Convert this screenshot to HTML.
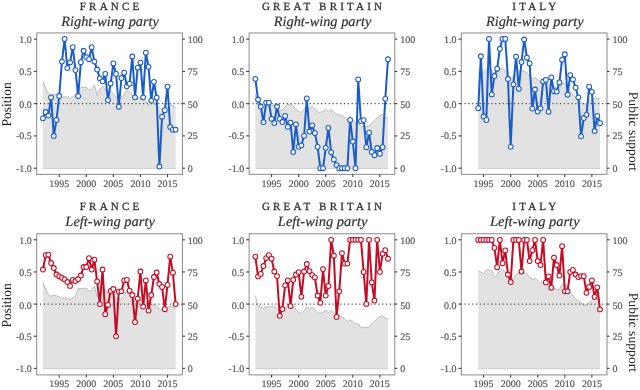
<!DOCTYPE html><html><head><meta charset="utf-8"><style>html,body{margin:0;padding:0;background:#fff;}svg{display:block;will-change:transform;}text{font-family:"Liberation Serif",serif;text-rendering:geometricPrecision;} .tk{font-size:10px;fill:#5a5a5a;stroke:#5a5a5a;stroke-width:0.2px;} .tt{font-size:11px;letter-spacing:3.2px;fill:#333;stroke:#333;stroke-width:0.3px;} .st{font-size:14.2px;font-style:italic;fill:#333;stroke:#333;stroke-width:0.2px;} .yl{fill:#222;}</style></head><body>
<svg width="640" height="390" viewBox="0 0 640 390">
<rect width="640" height="390" fill="#fff"/>
<text x="111.1" y="9.6" class="tt" text-anchor="middle">FRANCE</text>
<text x="110.1" y="25.8" class="st" text-anchor="middle" textLength="97.7" lengthAdjust="spacingAndGlyphs">Right-wing party</text>
<polygon points="42.98,168.70 42.98,81.10 45.68,88.20 48.39,93.70 51.10,95.30 53.80,94.20 56.51,94.80 59.22,95.90 61.92,97.20 64.63,96.80 67.34,97.20 70.05,98.60 72.75,97.20 75.46,95.30 78.17,87.70 80.87,87.70 83.58,87.30 86.29,87.30 88.99,90.20 91.70,89.30 94.41,84.90 97.12,95.50 99.82,89.70 102.53,86.30 105.24,89.10 107.94,93.60 110.65,91.00 113.36,94.20 116.06,96.80 118.77,98.00 121.48,98.10 124.19,94.20 126.89,89.70 129.60,92.00 132.31,95.30 135.01,97.20 137.72,98.10 140.43,99.10 143.13,100.00 145.84,101.40 148.55,106.10 151.25,103.70 153.96,103.80 156.67,105.00 159.38,108.00 162.08,109.40 164.79,108.00 167.50,106.60 170.20,105.10 172.91,106.30 175.62,107.50 175.62,168.70" fill="#e2e2e2"/>
<polyline points="42.98,81.10 45.68,88.20 48.39,93.70 51.10,95.30 53.80,94.20 56.51,94.80 59.22,95.90 61.92,97.20 64.63,96.80 67.34,97.20 70.05,98.60 72.75,97.20 75.46,95.30 78.17,87.70 80.87,87.70 83.58,87.30 86.29,87.30 88.99,90.20 91.70,89.30 94.41,84.90 97.12,95.50 99.82,89.70 102.53,86.30 105.24,89.10 107.94,93.60 110.65,91.00 113.36,94.20 116.06,96.80 118.77,98.00 121.48,98.10 124.19,94.20 126.89,89.70 129.60,92.00 132.31,95.30 135.01,97.20 137.72,98.10 140.43,99.10 143.13,100.00 145.84,101.40 148.55,106.10 151.25,103.70 153.96,103.80 156.67,105.00 159.38,108.00 162.08,109.40 164.79,108.00 167.50,106.60 170.20,105.10 172.91,106.30 175.62,107.50" fill="none" stroke="#bdbdbd" stroke-width="1" stroke-linejoin="round"/>
<line x1="42.98" y1="168.50" x2="175.62" y2="168.50" stroke="#d2d2d2" stroke-width="1.2"/>
<line x1="36.15" y1="103.65" x2="182.4" y2="103.65" stroke="#505050" stroke-width="1.1" stroke-dasharray="1.25,2.565"/>
<polyline points="42.98,118.30 45.68,112.00 48.39,115.50 51.10,97.40 53.80,136.00 56.51,119.90 59.22,96.00 61.92,61.60 64.63,38.90 67.34,68.10 70.05,62.40 72.75,47.20 75.46,70.10 78.17,96.10 80.87,62.20 83.58,50.80 86.29,57.10 88.99,59.20 91.70,47.20 94.41,61.60 97.12,69.50 99.82,78.40 102.53,81.30 105.24,73.80 107.94,100.00 110.65,83.50 113.36,63.40 116.06,73.90 118.77,106.70 121.48,78.00 124.19,72.70 126.89,86.30 129.60,83.70 132.31,56.50 135.01,97.30 137.72,67.60 140.43,62.60 143.13,97.30 145.84,52.70 148.55,66.80 151.25,100.60 153.96,81.80 156.67,97.70 159.38,166.50 162.08,116.70 164.79,110.20 167.50,86.70 170.20,127.00 172.91,129.70 175.62,129.70" fill="none" stroke="#1a5cc8" stroke-width="2" stroke-linejoin="round"/>
<circle cx="42.98" cy="118.30" r="2.4" fill="#fff" stroke="#1a5cc8" stroke-width="1.05"/>
<circle cx="45.68" cy="112.00" r="2.4" fill="#fff" stroke="#1a5cc8" stroke-width="1.05"/>
<circle cx="48.39" cy="115.50" r="2.4" fill="#fff" stroke="#1a5cc8" stroke-width="1.05"/>
<circle cx="51.10" cy="97.40" r="2.4" fill="#fff" stroke="#1a5cc8" stroke-width="1.05"/>
<circle cx="53.80" cy="136.00" r="2.4" fill="#fff" stroke="#1a5cc8" stroke-width="1.05"/>
<circle cx="56.51" cy="119.90" r="2.4" fill="#fff" stroke="#1a5cc8" stroke-width="1.05"/>
<circle cx="59.22" cy="96.00" r="2.4" fill="#fff" stroke="#1a5cc8" stroke-width="1.05"/>
<circle cx="61.92" cy="61.60" r="2.4" fill="#fff" stroke="#1a5cc8" stroke-width="1.05"/>
<circle cx="64.63" cy="38.90" r="2.4" fill="#fff" stroke="#1a5cc8" stroke-width="1.05"/>
<circle cx="67.34" cy="68.10" r="2.4" fill="#fff" stroke="#1a5cc8" stroke-width="1.05"/>
<circle cx="70.05" cy="62.40" r="2.4" fill="#fff" stroke="#1a5cc8" stroke-width="1.05"/>
<circle cx="72.75" cy="47.20" r="2.4" fill="#fff" stroke="#1a5cc8" stroke-width="1.05"/>
<circle cx="75.46" cy="70.10" r="2.4" fill="#fff" stroke="#1a5cc8" stroke-width="1.05"/>
<circle cx="78.17" cy="96.10" r="2.4" fill="#fff" stroke="#1a5cc8" stroke-width="1.05"/>
<circle cx="80.87" cy="62.20" r="2.4" fill="#fff" stroke="#1a5cc8" stroke-width="1.05"/>
<circle cx="83.58" cy="50.80" r="2.4" fill="#fff" stroke="#1a5cc8" stroke-width="1.05"/>
<circle cx="86.29" cy="57.10" r="2.4" fill="#fff" stroke="#1a5cc8" stroke-width="1.05"/>
<circle cx="88.99" cy="59.20" r="2.4" fill="#fff" stroke="#1a5cc8" stroke-width="1.05"/>
<circle cx="91.70" cy="47.20" r="2.4" fill="#fff" stroke="#1a5cc8" stroke-width="1.05"/>
<circle cx="94.41" cy="61.60" r="2.4" fill="#fff" stroke="#1a5cc8" stroke-width="1.05"/>
<circle cx="97.12" cy="69.50" r="2.4" fill="#fff" stroke="#1a5cc8" stroke-width="1.05"/>
<circle cx="99.82" cy="78.40" r="2.4" fill="#fff" stroke="#1a5cc8" stroke-width="1.05"/>
<circle cx="102.53" cy="81.30" r="2.4" fill="#fff" stroke="#1a5cc8" stroke-width="1.05"/>
<circle cx="105.24" cy="73.80" r="2.4" fill="#fff" stroke="#1a5cc8" stroke-width="1.05"/>
<circle cx="107.94" cy="100.00" r="2.4" fill="#fff" stroke="#1a5cc8" stroke-width="1.05"/>
<circle cx="110.65" cy="83.50" r="2.4" fill="#fff" stroke="#1a5cc8" stroke-width="1.05"/>
<circle cx="113.36" cy="63.40" r="2.4" fill="#fff" stroke="#1a5cc8" stroke-width="1.05"/>
<circle cx="116.06" cy="73.90" r="2.4" fill="#fff" stroke="#1a5cc8" stroke-width="1.05"/>
<circle cx="118.77" cy="106.70" r="2.4" fill="#fff" stroke="#1a5cc8" stroke-width="1.05"/>
<circle cx="121.48" cy="78.00" r="2.4" fill="#fff" stroke="#1a5cc8" stroke-width="1.05"/>
<circle cx="124.19" cy="72.70" r="2.4" fill="#fff" stroke="#1a5cc8" stroke-width="1.05"/>
<circle cx="126.89" cy="86.30" r="2.4" fill="#fff" stroke="#1a5cc8" stroke-width="1.05"/>
<circle cx="129.60" cy="83.70" r="2.4" fill="#fff" stroke="#1a5cc8" stroke-width="1.05"/>
<circle cx="132.31" cy="56.50" r="2.4" fill="#fff" stroke="#1a5cc8" stroke-width="1.05"/>
<circle cx="135.01" cy="97.30" r="2.4" fill="#fff" stroke="#1a5cc8" stroke-width="1.05"/>
<circle cx="137.72" cy="67.60" r="2.4" fill="#fff" stroke="#1a5cc8" stroke-width="1.05"/>
<circle cx="140.43" cy="62.60" r="2.4" fill="#fff" stroke="#1a5cc8" stroke-width="1.05"/>
<circle cx="143.13" cy="97.30" r="2.4" fill="#fff" stroke="#1a5cc8" stroke-width="1.05"/>
<circle cx="145.84" cy="52.70" r="2.4" fill="#fff" stroke="#1a5cc8" stroke-width="1.05"/>
<circle cx="148.55" cy="66.80" r="2.4" fill="#fff" stroke="#1a5cc8" stroke-width="1.05"/>
<circle cx="151.25" cy="100.60" r="2.4" fill="#fff" stroke="#1a5cc8" stroke-width="1.05"/>
<circle cx="153.96" cy="81.80" r="2.4" fill="#fff" stroke="#1a5cc8" stroke-width="1.05"/>
<circle cx="156.67" cy="97.70" r="2.4" fill="#fff" stroke="#1a5cc8" stroke-width="1.05"/>
<circle cx="159.38" cy="166.50" r="2.4" fill="#fff" stroke="#1a5cc8" stroke-width="1.05"/>
<circle cx="162.08" cy="116.70" r="2.4" fill="#fff" stroke="#1a5cc8" stroke-width="1.05"/>
<circle cx="164.79" cy="110.20" r="2.4" fill="#fff" stroke="#1a5cc8" stroke-width="1.05"/>
<circle cx="167.50" cy="86.70" r="2.4" fill="#fff" stroke="#1a5cc8" stroke-width="1.05"/>
<circle cx="170.20" cy="127.00" r="2.4" fill="#fff" stroke="#1a5cc8" stroke-width="1.05"/>
<circle cx="172.91" cy="129.70" r="2.4" fill="#fff" stroke="#1a5cc8" stroke-width="1.05"/>
<circle cx="175.62" cy="129.70" r="2.4" fill="#fff" stroke="#1a5cc8" stroke-width="1.05"/>
<rect x="36.70" y="32.95" width="145.70" height="141.40" fill="none" stroke="#8a8a8a" stroke-width="1"/>
<line x1="33.80" y1="39.10" x2="36.70" y2="39.10" stroke="#3a3a3a" stroke-width="1.1"/>
<line x1="182.40" y1="39.10" x2="184.90" y2="39.10" stroke="#3a3a3a" stroke-width="1.1"/>
<text x="31.80" y="42.50" class="tk" text-anchor="end">1.0</text>
<text x="187.80" y="42.50" class="tk">100</text>
<line x1="33.80" y1="71.38" x2="36.70" y2="71.38" stroke="#3a3a3a" stroke-width="1.1"/>
<line x1="182.40" y1="71.38" x2="184.90" y2="71.38" stroke="#3a3a3a" stroke-width="1.1"/>
<text x="31.80" y="74.78" class="tk" text-anchor="end">0.5</text>
<text x="187.80" y="74.78" class="tk">75</text>
<line x1="33.80" y1="103.65" x2="36.70" y2="103.65" stroke="#3a3a3a" stroke-width="1.1"/>
<line x1="182.40" y1="103.65" x2="184.90" y2="103.65" stroke="#3a3a3a" stroke-width="1.1"/>
<text x="31.80" y="107.85" class="tk" text-anchor="end">0.0</text>
<text x="187.80" y="107.85" class="tk">50</text>
<line x1="33.80" y1="135.92" x2="36.70" y2="135.92" stroke="#3a3a3a" stroke-width="1.1"/>
<line x1="182.40" y1="135.92" x2="184.90" y2="135.92" stroke="#3a3a3a" stroke-width="1.1"/>
<text x="31.80" y="139.32" class="tk" text-anchor="end">-0.5</text>
<text x="187.80" y="139.32" class="tk">25</text>
<line x1="33.80" y1="168.20" x2="36.70" y2="168.20" stroke="#3a3a3a" stroke-width="1.1"/>
<line x1="182.40" y1="168.20" x2="184.90" y2="168.20" stroke="#3a3a3a" stroke-width="1.1"/>
<text x="31.80" y="171.60" class="tk" text-anchor="end">-1.0</text>
<text x="187.80" y="171.60" class="tk">0</text>
<line x1="59.22" y1="174.35" x2="59.22" y2="177.05" stroke="#3a3a3a" stroke-width="1.1"/>
<text x="59.22" y="186.80" class="tk" text-anchor="middle">1995</text>
<line x1="86.29" y1="174.35" x2="86.29" y2="177.05" stroke="#3a3a3a" stroke-width="1.1"/>
<text x="86.29" y="186.80" class="tk" text-anchor="middle">2000</text>
<line x1="113.36" y1="174.35" x2="113.36" y2="177.05" stroke="#3a3a3a" stroke-width="1.1"/>
<text x="113.36" y="186.80" class="tk" text-anchor="middle">2005</text>
<line x1="140.43" y1="174.35" x2="140.43" y2="177.05" stroke="#3a3a3a" stroke-width="1.1"/>
<text x="140.43" y="186.80" class="tk" text-anchor="middle">2010</text>
<line x1="167.50" y1="174.35" x2="167.50" y2="177.05" stroke="#3a3a3a" stroke-width="1.1"/>
<text x="167.50" y="186.80" class="tk" text-anchor="middle">2015</text>
<text x="323.6" y="9.6" class="tt" text-anchor="middle">GREAT BRITAIN</text>
<text x="322.6" y="25.8" class="st" text-anchor="middle" textLength="97.7" lengthAdjust="spacingAndGlyphs">Right-wing party</text>
<polygon points="255.35,168.70 255.35,94.50 258.06,105.00 260.76,106.30 263.47,107.30 266.18,105.60 268.88,106.00 271.59,105.50 274.30,105.30 277.01,107.70 279.71,110.30 282.42,110.30 285.13,106.50 287.83,104.30 290.54,104.30 293.25,106.00 295.95,108.80 298.66,111.70 301.37,112.30 304.08,109.50 306.78,106.20 309.49,108.20 312.20,106.20 314.90,108.50 317.61,112.00 320.32,112.50 323.02,111.50 325.73,109.00 328.44,112.00 331.15,109.50 333.85,112.00 336.56,114.20 339.27,114.80 341.97,115.90 344.68,117.40 347.39,120.40 350.09,119.00 352.80,120.40 355.51,123.00 358.22,122.70 360.92,126.60 363.63,126.60 366.34,126.60 369.04,126.00 371.75,122.70 374.46,120.40 377.16,117.60 379.87,115.60 382.58,114.80 385.29,117.10 387.99,118.20 387.99,168.70" fill="#e2e2e2"/>
<polyline points="255.35,94.50 258.06,105.00 260.76,106.30 263.47,107.30 266.18,105.60 268.88,106.00 271.59,105.50 274.30,105.30 277.01,107.70 279.71,110.30 282.42,110.30 285.13,106.50 287.83,104.30 290.54,104.30 293.25,106.00 295.95,108.80 298.66,111.70 301.37,112.30 304.08,109.50 306.78,106.20 309.49,108.20 312.20,106.20 314.90,108.50 317.61,112.00 320.32,112.50 323.02,111.50 325.73,109.00 328.44,112.00 331.15,109.50 333.85,112.00 336.56,114.20 339.27,114.80 341.97,115.90 344.68,117.40 347.39,120.40 350.09,119.00 352.80,120.40 355.51,123.00 358.22,122.70 360.92,126.60 363.63,126.60 366.34,126.60 369.04,126.00 371.75,122.70 374.46,120.40 377.16,117.60 379.87,115.60 382.58,114.80 385.29,117.10 387.99,118.20" fill="none" stroke="#bdbdbd" stroke-width="1" stroke-linejoin="round"/>
<line x1="255.35" y1="168.50" x2="387.99" y2="168.50" stroke="#d2d2d2" stroke-width="1.2"/>
<line x1="248.55" y1="103.65" x2="394.8" y2="103.65" stroke="#505050" stroke-width="1.1" stroke-dasharray="1.25,2.565"/>
<polyline points="255.35,78.80 258.06,99.50 260.76,106.50 263.47,122.00 266.18,102.60 268.88,102.60 271.59,118.80 274.30,123.00 277.01,106.50 279.71,118.80 282.42,122.00 285.13,115.90 287.83,126.80 290.54,122.60 293.25,152.00 295.95,124.30 298.66,146.80 301.37,145.30 304.08,135.80 306.78,98.40 309.49,131.60 312.20,125.30 314.90,133.10 317.61,146.80 320.32,168.20 323.02,168.20 325.73,147.80 328.44,127.90 331.15,152.30 333.85,159.40 336.56,165.10 339.27,168.20 341.97,168.20 344.68,168.20 347.39,168.20 350.09,119.90 352.80,141.50 355.51,168.20 358.22,79.40 360.92,121.10 363.63,120.10 366.34,147.20 369.04,132.70 371.75,152.00 374.46,155.20 377.16,148.00 379.87,153.70 382.58,147.20 385.29,98.80 387.99,59.30" fill="none" stroke="#1a5cc8" stroke-width="2" stroke-linejoin="round"/>
<circle cx="255.35" cy="78.80" r="2.4" fill="#fff" stroke="#1a5cc8" stroke-width="1.05"/>
<circle cx="258.06" cy="99.50" r="2.4" fill="#fff" stroke="#1a5cc8" stroke-width="1.05"/>
<circle cx="260.76" cy="106.50" r="2.4" fill="#fff" stroke="#1a5cc8" stroke-width="1.05"/>
<circle cx="263.47" cy="122.00" r="2.4" fill="#fff" stroke="#1a5cc8" stroke-width="1.05"/>
<circle cx="266.18" cy="102.60" r="2.4" fill="#fff" stroke="#1a5cc8" stroke-width="1.05"/>
<circle cx="268.88" cy="102.60" r="2.4" fill="#fff" stroke="#1a5cc8" stroke-width="1.05"/>
<circle cx="271.59" cy="118.80" r="2.4" fill="#fff" stroke="#1a5cc8" stroke-width="1.05"/>
<circle cx="274.30" cy="123.00" r="2.4" fill="#fff" stroke="#1a5cc8" stroke-width="1.05"/>
<circle cx="277.01" cy="106.50" r="2.4" fill="#fff" stroke="#1a5cc8" stroke-width="1.05"/>
<circle cx="279.71" cy="118.80" r="2.4" fill="#fff" stroke="#1a5cc8" stroke-width="1.05"/>
<circle cx="282.42" cy="122.00" r="2.4" fill="#fff" stroke="#1a5cc8" stroke-width="1.05"/>
<circle cx="285.13" cy="115.90" r="2.4" fill="#fff" stroke="#1a5cc8" stroke-width="1.05"/>
<circle cx="287.83" cy="126.80" r="2.4" fill="#fff" stroke="#1a5cc8" stroke-width="1.05"/>
<circle cx="290.54" cy="122.60" r="2.4" fill="#fff" stroke="#1a5cc8" stroke-width="1.05"/>
<circle cx="293.25" cy="152.00" r="2.4" fill="#fff" stroke="#1a5cc8" stroke-width="1.05"/>
<circle cx="295.95" cy="124.30" r="2.4" fill="#fff" stroke="#1a5cc8" stroke-width="1.05"/>
<circle cx="298.66" cy="146.80" r="2.4" fill="#fff" stroke="#1a5cc8" stroke-width="1.05"/>
<circle cx="301.37" cy="145.30" r="2.4" fill="#fff" stroke="#1a5cc8" stroke-width="1.05"/>
<circle cx="304.08" cy="135.80" r="2.4" fill="#fff" stroke="#1a5cc8" stroke-width="1.05"/>
<circle cx="306.78" cy="98.40" r="2.4" fill="#fff" stroke="#1a5cc8" stroke-width="1.05"/>
<circle cx="309.49" cy="131.60" r="2.4" fill="#fff" stroke="#1a5cc8" stroke-width="1.05"/>
<circle cx="312.20" cy="125.30" r="2.4" fill="#fff" stroke="#1a5cc8" stroke-width="1.05"/>
<circle cx="314.90" cy="133.10" r="2.4" fill="#fff" stroke="#1a5cc8" stroke-width="1.05"/>
<circle cx="317.61" cy="146.80" r="2.4" fill="#fff" stroke="#1a5cc8" stroke-width="1.05"/>
<circle cx="320.32" cy="168.20" r="2.4" fill="#fff" stroke="#1a5cc8" stroke-width="1.05"/>
<circle cx="323.02" cy="168.20" r="2.4" fill="#fff" stroke="#1a5cc8" stroke-width="1.05"/>
<circle cx="325.73" cy="147.80" r="2.4" fill="#fff" stroke="#1a5cc8" stroke-width="1.05"/>
<circle cx="328.44" cy="127.90" r="2.4" fill="#fff" stroke="#1a5cc8" stroke-width="1.05"/>
<circle cx="331.15" cy="152.30" r="2.4" fill="#fff" stroke="#1a5cc8" stroke-width="1.05"/>
<circle cx="333.85" cy="159.40" r="2.4" fill="#fff" stroke="#1a5cc8" stroke-width="1.05"/>
<circle cx="336.56" cy="165.10" r="2.4" fill="#fff" stroke="#1a5cc8" stroke-width="1.05"/>
<circle cx="339.27" cy="168.20" r="2.4" fill="#fff" stroke="#1a5cc8" stroke-width="1.05"/>
<circle cx="341.97" cy="168.20" r="2.4" fill="#fff" stroke="#1a5cc8" stroke-width="1.05"/>
<circle cx="344.68" cy="168.20" r="2.4" fill="#fff" stroke="#1a5cc8" stroke-width="1.05"/>
<circle cx="347.39" cy="168.20" r="2.4" fill="#fff" stroke="#1a5cc8" stroke-width="1.05"/>
<circle cx="350.09" cy="119.90" r="2.4" fill="#fff" stroke="#1a5cc8" stroke-width="1.05"/>
<circle cx="352.80" cy="141.50" r="2.4" fill="#fff" stroke="#1a5cc8" stroke-width="1.05"/>
<circle cx="355.51" cy="168.20" r="2.4" fill="#fff" stroke="#1a5cc8" stroke-width="1.05"/>
<circle cx="358.22" cy="79.40" r="2.4" fill="#fff" stroke="#1a5cc8" stroke-width="1.05"/>
<circle cx="360.92" cy="121.10" r="2.4" fill="#fff" stroke="#1a5cc8" stroke-width="1.05"/>
<circle cx="363.63" cy="120.10" r="2.4" fill="#fff" stroke="#1a5cc8" stroke-width="1.05"/>
<circle cx="366.34" cy="147.20" r="2.4" fill="#fff" stroke="#1a5cc8" stroke-width="1.05"/>
<circle cx="369.04" cy="132.70" r="2.4" fill="#fff" stroke="#1a5cc8" stroke-width="1.05"/>
<circle cx="371.75" cy="152.00" r="2.4" fill="#fff" stroke="#1a5cc8" stroke-width="1.05"/>
<circle cx="374.46" cy="155.20" r="2.4" fill="#fff" stroke="#1a5cc8" stroke-width="1.05"/>
<circle cx="377.16" cy="148.00" r="2.4" fill="#fff" stroke="#1a5cc8" stroke-width="1.05"/>
<circle cx="379.87" cy="153.70" r="2.4" fill="#fff" stroke="#1a5cc8" stroke-width="1.05"/>
<circle cx="382.58" cy="147.20" r="2.4" fill="#fff" stroke="#1a5cc8" stroke-width="1.05"/>
<circle cx="385.29" cy="98.80" r="2.4" fill="#fff" stroke="#1a5cc8" stroke-width="1.05"/>
<circle cx="387.99" cy="59.30" r="2.4" fill="#fff" stroke="#1a5cc8" stroke-width="1.05"/>
<rect x="249.10" y="32.95" width="145.70" height="141.40" fill="none" stroke="#8a8a8a" stroke-width="1"/>
<line x1="246.20" y1="39.10" x2="249.10" y2="39.10" stroke="#3a3a3a" stroke-width="1.1"/>
<line x1="394.80" y1="39.10" x2="397.30" y2="39.10" stroke="#3a3a3a" stroke-width="1.1"/>
<text x="244.20" y="42.50" class="tk" text-anchor="end">1.0</text>
<text x="400.20" y="42.50" class="tk">100</text>
<line x1="246.20" y1="71.38" x2="249.10" y2="71.38" stroke="#3a3a3a" stroke-width="1.1"/>
<line x1="394.80" y1="71.38" x2="397.30" y2="71.38" stroke="#3a3a3a" stroke-width="1.1"/>
<text x="244.20" y="74.78" class="tk" text-anchor="end">0.5</text>
<text x="400.20" y="74.78" class="tk">75</text>
<line x1="246.20" y1="103.65" x2="249.10" y2="103.65" stroke="#3a3a3a" stroke-width="1.1"/>
<line x1="394.80" y1="103.65" x2="397.30" y2="103.65" stroke="#3a3a3a" stroke-width="1.1"/>
<text x="244.20" y="107.85" class="tk" text-anchor="end">0.0</text>
<text x="400.20" y="107.85" class="tk">50</text>
<line x1="246.20" y1="135.92" x2="249.10" y2="135.92" stroke="#3a3a3a" stroke-width="1.1"/>
<line x1="394.80" y1="135.92" x2="397.30" y2="135.92" stroke="#3a3a3a" stroke-width="1.1"/>
<text x="244.20" y="139.32" class="tk" text-anchor="end">-0.5</text>
<text x="400.20" y="139.32" class="tk">25</text>
<line x1="246.20" y1="168.20" x2="249.10" y2="168.20" stroke="#3a3a3a" stroke-width="1.1"/>
<line x1="394.80" y1="168.20" x2="397.30" y2="168.20" stroke="#3a3a3a" stroke-width="1.1"/>
<text x="244.20" y="171.60" class="tk" text-anchor="end">-1.0</text>
<text x="400.20" y="171.60" class="tk">0</text>
<line x1="271.59" y1="174.35" x2="271.59" y2="177.05" stroke="#3a3a3a" stroke-width="1.1"/>
<text x="271.59" y="186.80" class="tk" text-anchor="middle">1995</text>
<line x1="298.66" y1="174.35" x2="298.66" y2="177.05" stroke="#3a3a3a" stroke-width="1.1"/>
<text x="298.66" y="186.80" class="tk" text-anchor="middle">2000</text>
<line x1="325.73" y1="174.35" x2="325.73" y2="177.05" stroke="#3a3a3a" stroke-width="1.1"/>
<text x="325.73" y="186.80" class="tk" text-anchor="middle">2005</text>
<line x1="352.80" y1="174.35" x2="352.80" y2="177.05" stroke="#3a3a3a" stroke-width="1.1"/>
<text x="352.80" y="186.80" class="tk" text-anchor="middle">2010</text>
<line x1="379.87" y1="174.35" x2="379.87" y2="177.05" stroke="#3a3a3a" stroke-width="1.1"/>
<text x="379.87" y="186.80" class="tk" text-anchor="middle">2015</text>
<text x="535.8" y="9.6" class="tt" text-anchor="middle">ITALY</text>
<text x="534.8" y="25.8" class="st" text-anchor="middle" textLength="97.7" lengthAdjust="spacingAndGlyphs">Right-wing party</text>
<polygon points="478.19,168.70 478.19,69.50 480.90,71.10 483.60,72.50 486.31,68.90 489.02,68.90 491.72,69.80 494.43,76.30 497.14,74.10 499.84,69.20 502.55,68.40 505.26,70.80 507.97,75.20 510.67,78.00 513.38,77.40 516.09,74.10 518.79,71.40 521.50,70.80 524.21,71.40 526.91,73.00 529.62,76.30 532.33,78.50 535.03,77.50 537.74,79.40 540.45,82.70 543.16,80.50 545.86,81.00 548.57,83.00 551.28,85.40 553.98,86.50 556.69,88.50 559.40,88.50 562.11,83.50 564.81,83.00 567.52,88.00 570.23,91.00 572.93,94.50 575.64,97.50 578.35,100.00 581.05,102.00 583.76,104.00 586.47,104.00 589.17,101.50 591.88,98.90 594.59,97.90 597.30,98.40 600.00,98.90 600.00,168.70" fill="#e2e2e2"/>
<polyline points="478.19,69.50 480.90,71.10 483.60,72.50 486.31,68.90 489.02,68.90 491.72,69.80 494.43,76.30 497.14,74.10 499.84,69.20 502.55,68.40 505.26,70.80 507.97,75.20 510.67,78.00 513.38,77.40 516.09,74.10 518.79,71.40 521.50,70.80 524.21,71.40 526.91,73.00 529.62,76.30 532.33,78.50 535.03,77.50 537.74,79.40 540.45,82.70 543.16,80.50 545.86,81.00 548.57,83.00 551.28,85.40 553.98,86.50 556.69,88.50 559.40,88.50 562.11,83.50 564.81,83.00 567.52,88.00 570.23,91.00 572.93,94.50 575.64,97.50 578.35,100.00 581.05,102.00 583.76,104.00 586.47,104.00 589.17,101.50 591.88,98.90 594.59,97.90 597.30,98.40 600.00,98.90" fill="none" stroke="#bdbdbd" stroke-width="1" stroke-linejoin="round"/>
<line x1="478.19" y1="168.50" x2="600.00" y2="168.50" stroke="#d2d2d2" stroke-width="1.2"/>
<line x1="460.75" y1="103.65" x2="607.0" y2="103.65" stroke="#505050" stroke-width="1.1" stroke-dasharray="1.25,2.565"/>
<polyline points="478.19,108.20 480.90,56.30 483.60,116.50 486.31,119.90 489.02,38.90 491.72,94.40 494.43,76.00 497.14,68.70 499.84,48.80 502.55,38.90 505.26,38.90 507.97,79.00 510.67,146.80 513.38,84.30 516.09,56.70 518.79,88.70 521.50,62.00 524.21,39.50 526.91,57.70 529.62,63.40 532.33,108.60 535.03,89.50 537.74,111.50 540.45,108.30 543.16,81.40 545.86,79.80 548.57,111.70 551.28,77.40 553.98,91.20 556.69,91.60 559.40,82.40 562.11,59.70 564.81,54.30 567.52,94.70 570.23,75.10 572.93,79.40 575.64,87.70 578.35,97.30 581.05,136.30 583.76,118.00 586.47,114.80 589.17,86.70 591.88,91.80 594.59,131.00 597.30,115.90 600.00,123.20" fill="none" stroke="#1a5cc8" stroke-width="2" stroke-linejoin="round"/>
<circle cx="478.19" cy="108.20" r="2.4" fill="#fff" stroke="#1a5cc8" stroke-width="1.05"/>
<circle cx="480.90" cy="56.30" r="2.4" fill="#fff" stroke="#1a5cc8" stroke-width="1.05"/>
<circle cx="483.60" cy="116.50" r="2.4" fill="#fff" stroke="#1a5cc8" stroke-width="1.05"/>
<circle cx="486.31" cy="119.90" r="2.4" fill="#fff" stroke="#1a5cc8" stroke-width="1.05"/>
<circle cx="489.02" cy="38.90" r="2.4" fill="#fff" stroke="#1a5cc8" stroke-width="1.05"/>
<circle cx="491.72" cy="94.40" r="2.4" fill="#fff" stroke="#1a5cc8" stroke-width="1.05"/>
<circle cx="494.43" cy="76.00" r="2.4" fill="#fff" stroke="#1a5cc8" stroke-width="1.05"/>
<circle cx="497.14" cy="68.70" r="2.4" fill="#fff" stroke="#1a5cc8" stroke-width="1.05"/>
<circle cx="499.84" cy="48.80" r="2.4" fill="#fff" stroke="#1a5cc8" stroke-width="1.05"/>
<circle cx="502.55" cy="38.90" r="2.4" fill="#fff" stroke="#1a5cc8" stroke-width="1.05"/>
<circle cx="505.26" cy="38.90" r="2.4" fill="#fff" stroke="#1a5cc8" stroke-width="1.05"/>
<circle cx="507.97" cy="79.00" r="2.4" fill="#fff" stroke="#1a5cc8" stroke-width="1.05"/>
<circle cx="510.67" cy="146.80" r="2.4" fill="#fff" stroke="#1a5cc8" stroke-width="1.05"/>
<circle cx="513.38" cy="84.30" r="2.4" fill="#fff" stroke="#1a5cc8" stroke-width="1.05"/>
<circle cx="516.09" cy="56.70" r="2.4" fill="#fff" stroke="#1a5cc8" stroke-width="1.05"/>
<circle cx="518.79" cy="88.70" r="2.4" fill="#fff" stroke="#1a5cc8" stroke-width="1.05"/>
<circle cx="521.50" cy="62.00" r="2.4" fill="#fff" stroke="#1a5cc8" stroke-width="1.05"/>
<circle cx="524.21" cy="39.50" r="2.4" fill="#fff" stroke="#1a5cc8" stroke-width="1.05"/>
<circle cx="526.91" cy="57.70" r="2.4" fill="#fff" stroke="#1a5cc8" stroke-width="1.05"/>
<circle cx="529.62" cy="63.40" r="2.4" fill="#fff" stroke="#1a5cc8" stroke-width="1.05"/>
<circle cx="532.33" cy="108.60" r="2.4" fill="#fff" stroke="#1a5cc8" stroke-width="1.05"/>
<circle cx="535.03" cy="89.50" r="2.4" fill="#fff" stroke="#1a5cc8" stroke-width="1.05"/>
<circle cx="537.74" cy="111.50" r="2.4" fill="#fff" stroke="#1a5cc8" stroke-width="1.05"/>
<circle cx="540.45" cy="108.30" r="2.4" fill="#fff" stroke="#1a5cc8" stroke-width="1.05"/>
<circle cx="543.16" cy="81.40" r="2.4" fill="#fff" stroke="#1a5cc8" stroke-width="1.05"/>
<circle cx="545.86" cy="79.80" r="2.4" fill="#fff" stroke="#1a5cc8" stroke-width="1.05"/>
<circle cx="548.57" cy="111.70" r="2.4" fill="#fff" stroke="#1a5cc8" stroke-width="1.05"/>
<circle cx="551.28" cy="77.40" r="2.4" fill="#fff" stroke="#1a5cc8" stroke-width="1.05"/>
<circle cx="553.98" cy="91.20" r="2.4" fill="#fff" stroke="#1a5cc8" stroke-width="1.05"/>
<circle cx="556.69" cy="91.60" r="2.4" fill="#fff" stroke="#1a5cc8" stroke-width="1.05"/>
<circle cx="559.40" cy="82.40" r="2.4" fill="#fff" stroke="#1a5cc8" stroke-width="1.05"/>
<circle cx="562.11" cy="59.70" r="2.4" fill="#fff" stroke="#1a5cc8" stroke-width="1.05"/>
<circle cx="564.81" cy="54.30" r="2.4" fill="#fff" stroke="#1a5cc8" stroke-width="1.05"/>
<circle cx="567.52" cy="94.70" r="2.4" fill="#fff" stroke="#1a5cc8" stroke-width="1.05"/>
<circle cx="570.23" cy="75.10" r="2.4" fill="#fff" stroke="#1a5cc8" stroke-width="1.05"/>
<circle cx="572.93" cy="79.40" r="2.4" fill="#fff" stroke="#1a5cc8" stroke-width="1.05"/>
<circle cx="575.64" cy="87.70" r="2.4" fill="#fff" stroke="#1a5cc8" stroke-width="1.05"/>
<circle cx="578.35" cy="97.30" r="2.4" fill="#fff" stroke="#1a5cc8" stroke-width="1.05"/>
<circle cx="581.05" cy="136.30" r="2.4" fill="#fff" stroke="#1a5cc8" stroke-width="1.05"/>
<circle cx="583.76" cy="118.00" r="2.4" fill="#fff" stroke="#1a5cc8" stroke-width="1.05"/>
<circle cx="586.47" cy="114.80" r="2.4" fill="#fff" stroke="#1a5cc8" stroke-width="1.05"/>
<circle cx="589.17" cy="86.70" r="2.4" fill="#fff" stroke="#1a5cc8" stroke-width="1.05"/>
<circle cx="591.88" cy="91.80" r="2.4" fill="#fff" stroke="#1a5cc8" stroke-width="1.05"/>
<circle cx="594.59" cy="131.00" r="2.4" fill="#fff" stroke="#1a5cc8" stroke-width="1.05"/>
<circle cx="597.30" cy="115.90" r="2.4" fill="#fff" stroke="#1a5cc8" stroke-width="1.05"/>
<circle cx="600.00" cy="123.20" r="2.4" fill="#fff" stroke="#1a5cc8" stroke-width="1.05"/>
<rect x="461.30" y="32.95" width="145.70" height="141.40" fill="none" stroke="#8a8a8a" stroke-width="1"/>
<line x1="458.40" y1="39.10" x2="461.30" y2="39.10" stroke="#3a3a3a" stroke-width="1.1"/>
<line x1="607.00" y1="39.10" x2="609.50" y2="39.10" stroke="#3a3a3a" stroke-width="1.1"/>
<text x="456.40" y="42.50" class="tk" text-anchor="end">1.0</text>
<text x="612.40" y="42.50" class="tk">100</text>
<line x1="458.40" y1="71.38" x2="461.30" y2="71.38" stroke="#3a3a3a" stroke-width="1.1"/>
<line x1="607.00" y1="71.38" x2="609.50" y2="71.38" stroke="#3a3a3a" stroke-width="1.1"/>
<text x="456.40" y="74.78" class="tk" text-anchor="end">0.5</text>
<text x="612.40" y="74.78" class="tk">75</text>
<line x1="458.40" y1="103.65" x2="461.30" y2="103.65" stroke="#3a3a3a" stroke-width="1.1"/>
<line x1="607.00" y1="103.65" x2="609.50" y2="103.65" stroke="#3a3a3a" stroke-width="1.1"/>
<text x="456.40" y="107.85" class="tk" text-anchor="end">0.0</text>
<text x="612.40" y="107.85" class="tk">50</text>
<line x1="458.40" y1="135.92" x2="461.30" y2="135.92" stroke="#3a3a3a" stroke-width="1.1"/>
<line x1="607.00" y1="135.92" x2="609.50" y2="135.92" stroke="#3a3a3a" stroke-width="1.1"/>
<text x="456.40" y="139.32" class="tk" text-anchor="end">-0.5</text>
<text x="612.40" y="139.32" class="tk">25</text>
<line x1="458.40" y1="168.20" x2="461.30" y2="168.20" stroke="#3a3a3a" stroke-width="1.1"/>
<line x1="607.00" y1="168.20" x2="609.50" y2="168.20" stroke="#3a3a3a" stroke-width="1.1"/>
<text x="456.40" y="171.60" class="tk" text-anchor="end">-1.0</text>
<text x="612.40" y="171.60" class="tk">0</text>
<line x1="483.60" y1="174.35" x2="483.60" y2="177.05" stroke="#3a3a3a" stroke-width="1.1"/>
<text x="483.60" y="186.80" class="tk" text-anchor="middle">1995</text>
<line x1="510.67" y1="174.35" x2="510.67" y2="177.05" stroke="#3a3a3a" stroke-width="1.1"/>
<text x="510.67" y="186.80" class="tk" text-anchor="middle">2000</text>
<line x1="537.74" y1="174.35" x2="537.74" y2="177.05" stroke="#3a3a3a" stroke-width="1.1"/>
<text x="537.74" y="186.80" class="tk" text-anchor="middle">2005</text>
<line x1="564.81" y1="174.35" x2="564.81" y2="177.05" stroke="#3a3a3a" stroke-width="1.1"/>
<text x="564.81" y="186.80" class="tk" text-anchor="middle">2010</text>
<line x1="591.88" y1="174.35" x2="591.88" y2="177.05" stroke="#3a3a3a" stroke-width="1.1"/>
<text x="591.88" y="186.80" class="tk" text-anchor="middle">2015</text>
<text transform="translate(11.0,104.30) rotate(-90)" font-size="13.5" text-anchor="middle" class="yl">Position</text>
<text transform="translate(629.0,131.40) rotate(90)" font-size="13.3" text-anchor="middle" textLength="79.4" lengthAdjust="spacingAndGlyphs" class="yl">Public support</text>
<text x="111.1" y="209.6" class="tt" text-anchor="middle">FRANCE</text>
<text x="110.1" y="225.8" class="st" text-anchor="middle" textLength="89.5" lengthAdjust="spacingAndGlyphs">Left-wing party</text>
<polygon points="42.98,368.85 42.98,282.10 45.68,289.20 48.39,294.70 51.10,296.30 53.80,295.20 56.51,295.80 59.22,296.90 61.92,298.20 64.63,297.80 67.34,298.20 70.05,299.60 72.75,298.20 75.46,296.30 78.17,288.70 80.87,288.70 83.58,288.30 86.29,288.30 88.99,291.20 91.70,290.30 94.41,285.90 97.12,296.50 99.82,290.70 102.53,287.30 105.24,290.10 107.94,294.60 110.65,292.00 113.36,295.20 116.06,297.80 118.77,299.00 121.48,299.10 124.19,295.20 126.89,290.70 129.60,293.00 132.31,296.30 135.01,298.20 137.72,299.10 140.43,300.10 143.13,301.00 145.84,302.40 148.55,307.10 151.25,304.70 153.96,304.80 156.67,306.00 159.38,309.00 162.08,310.40 164.79,309.00 167.50,307.60 170.20,306.10 172.91,307.30 175.62,308.50 175.62,368.85" fill="#e2e2e2"/>
<polyline points="42.98,282.10 45.68,289.20 48.39,294.70 51.10,296.30 53.80,295.20 56.51,295.80 59.22,296.90 61.92,298.20 64.63,297.80 67.34,298.20 70.05,299.60 72.75,298.20 75.46,296.30 78.17,288.70 80.87,288.70 83.58,288.30 86.29,288.30 88.99,291.20 91.70,290.30 94.41,285.90 97.12,296.50 99.82,290.70 102.53,287.30 105.24,290.10 107.94,294.60 110.65,292.00 113.36,295.20 116.06,297.80 118.77,299.00 121.48,299.10 124.19,295.20 126.89,290.70 129.60,293.00 132.31,296.30 135.01,298.20 137.72,299.10 140.43,300.10 143.13,301.00 145.84,302.40 148.55,307.10 151.25,304.70 153.96,304.80 156.67,306.00 159.38,309.00 162.08,310.40 164.79,309.00 167.50,307.60 170.20,306.10 172.91,307.30 175.62,308.50" fill="none" stroke="#bdbdbd" stroke-width="1" stroke-linejoin="round"/>
<line x1="42.98" y1="368.65" x2="175.62" y2="368.65" stroke="#d2d2d2" stroke-width="1.2"/>
<line x1="36.15" y1="304.08" x2="182.4" y2="304.08" stroke="#505050" stroke-width="1.1" stroke-dasharray="1.25,2.565"/>
<polyline points="42.98,269.50 45.68,255.10 48.39,254.70 51.10,263.00 53.80,268.00 56.51,274.50 59.22,276.40 61.92,277.80 64.63,279.40 67.34,282.00 70.05,285.90 72.75,279.80 75.46,281.00 78.17,279.00 80.87,275.50 83.58,267.00 86.29,267.00 88.99,258.10 91.70,269.50 94.41,259.70 97.12,281.40 99.82,304.10 102.53,269.50 105.24,314.20 107.94,304.90 110.65,290.90 113.36,289.00 116.06,336.30 118.77,291.60 121.48,291.30 124.19,280.40 126.89,279.80 129.60,290.70 132.31,295.00 135.01,322.00 137.72,298.60 140.43,271.50 143.13,306.50 145.84,280.40 148.55,310.60 151.25,295.00 153.96,277.00 156.67,272.50 159.38,284.00 162.08,286.90 164.79,309.20 167.50,284.90 170.20,256.70 172.91,272.70 175.62,304.10" fill="none" stroke="#c50c24" stroke-width="2" stroke-linejoin="round"/>
<circle cx="42.98" cy="269.50" r="2.4" fill="#fff" stroke="#c50c24" stroke-width="1.05"/>
<circle cx="45.68" cy="255.10" r="2.4" fill="#fff" stroke="#c50c24" stroke-width="1.05"/>
<circle cx="48.39" cy="254.70" r="2.4" fill="#fff" stroke="#c50c24" stroke-width="1.05"/>
<circle cx="51.10" cy="263.00" r="2.4" fill="#fff" stroke="#c50c24" stroke-width="1.05"/>
<circle cx="53.80" cy="268.00" r="2.4" fill="#fff" stroke="#c50c24" stroke-width="1.05"/>
<circle cx="56.51" cy="274.50" r="2.4" fill="#fff" stroke="#c50c24" stroke-width="1.05"/>
<circle cx="59.22" cy="276.40" r="2.4" fill="#fff" stroke="#c50c24" stroke-width="1.05"/>
<circle cx="61.92" cy="277.80" r="2.4" fill="#fff" stroke="#c50c24" stroke-width="1.05"/>
<circle cx="64.63" cy="279.40" r="2.4" fill="#fff" stroke="#c50c24" stroke-width="1.05"/>
<circle cx="67.34" cy="282.00" r="2.4" fill="#fff" stroke="#c50c24" stroke-width="1.05"/>
<circle cx="70.05" cy="285.90" r="2.4" fill="#fff" stroke="#c50c24" stroke-width="1.05"/>
<circle cx="72.75" cy="279.80" r="2.4" fill="#fff" stroke="#c50c24" stroke-width="1.05"/>
<circle cx="75.46" cy="281.00" r="2.4" fill="#fff" stroke="#c50c24" stroke-width="1.05"/>
<circle cx="78.17" cy="279.00" r="2.4" fill="#fff" stroke="#c50c24" stroke-width="1.05"/>
<circle cx="80.87" cy="275.50" r="2.4" fill="#fff" stroke="#c50c24" stroke-width="1.05"/>
<circle cx="83.58" cy="267.00" r="2.4" fill="#fff" stroke="#c50c24" stroke-width="1.05"/>
<circle cx="86.29" cy="267.00" r="2.4" fill="#fff" stroke="#c50c24" stroke-width="1.05"/>
<circle cx="88.99" cy="258.10" r="2.4" fill="#fff" stroke="#c50c24" stroke-width="1.05"/>
<circle cx="91.70" cy="269.50" r="2.4" fill="#fff" stroke="#c50c24" stroke-width="1.05"/>
<circle cx="94.41" cy="259.70" r="2.4" fill="#fff" stroke="#c50c24" stroke-width="1.05"/>
<circle cx="97.12" cy="281.40" r="2.4" fill="#fff" stroke="#c50c24" stroke-width="1.05"/>
<circle cx="99.82" cy="304.10" r="2.4" fill="#fff" stroke="#c50c24" stroke-width="1.05"/>
<circle cx="102.53" cy="269.50" r="2.4" fill="#fff" stroke="#c50c24" stroke-width="1.05"/>
<circle cx="105.24" cy="314.20" r="2.4" fill="#fff" stroke="#c50c24" stroke-width="1.05"/>
<circle cx="107.94" cy="304.90" r="2.4" fill="#fff" stroke="#c50c24" stroke-width="1.05"/>
<circle cx="110.65" cy="290.90" r="2.4" fill="#fff" stroke="#c50c24" stroke-width="1.05"/>
<circle cx="113.36" cy="289.00" r="2.4" fill="#fff" stroke="#c50c24" stroke-width="1.05"/>
<circle cx="116.06" cy="336.30" r="2.4" fill="#fff" stroke="#c50c24" stroke-width="1.05"/>
<circle cx="118.77" cy="291.60" r="2.4" fill="#fff" stroke="#c50c24" stroke-width="1.05"/>
<circle cx="121.48" cy="291.30" r="2.4" fill="#fff" stroke="#c50c24" stroke-width="1.05"/>
<circle cx="124.19" cy="280.40" r="2.4" fill="#fff" stroke="#c50c24" stroke-width="1.05"/>
<circle cx="126.89" cy="279.80" r="2.4" fill="#fff" stroke="#c50c24" stroke-width="1.05"/>
<circle cx="129.60" cy="290.70" r="2.4" fill="#fff" stroke="#c50c24" stroke-width="1.05"/>
<circle cx="132.31" cy="295.00" r="2.4" fill="#fff" stroke="#c50c24" stroke-width="1.05"/>
<circle cx="135.01" cy="322.00" r="2.4" fill="#fff" stroke="#c50c24" stroke-width="1.05"/>
<circle cx="137.72" cy="298.60" r="2.4" fill="#fff" stroke="#c50c24" stroke-width="1.05"/>
<circle cx="140.43" cy="271.50" r="2.4" fill="#fff" stroke="#c50c24" stroke-width="1.05"/>
<circle cx="143.13" cy="306.50" r="2.4" fill="#fff" stroke="#c50c24" stroke-width="1.05"/>
<circle cx="145.84" cy="280.40" r="2.4" fill="#fff" stroke="#c50c24" stroke-width="1.05"/>
<circle cx="148.55" cy="310.60" r="2.4" fill="#fff" stroke="#c50c24" stroke-width="1.05"/>
<circle cx="151.25" cy="295.00" r="2.4" fill="#fff" stroke="#c50c24" stroke-width="1.05"/>
<circle cx="153.96" cy="277.00" r="2.4" fill="#fff" stroke="#c50c24" stroke-width="1.05"/>
<circle cx="156.67" cy="272.50" r="2.4" fill="#fff" stroke="#c50c24" stroke-width="1.05"/>
<circle cx="159.38" cy="284.00" r="2.4" fill="#fff" stroke="#c50c24" stroke-width="1.05"/>
<circle cx="162.08" cy="286.90" r="2.4" fill="#fff" stroke="#c50c24" stroke-width="1.05"/>
<circle cx="164.79" cy="309.20" r="2.4" fill="#fff" stroke="#c50c24" stroke-width="1.05"/>
<circle cx="167.50" cy="284.90" r="2.4" fill="#fff" stroke="#c50c24" stroke-width="1.05"/>
<circle cx="170.20" cy="256.70" r="2.4" fill="#fff" stroke="#c50c24" stroke-width="1.05"/>
<circle cx="172.91" cy="272.70" r="2.4" fill="#fff" stroke="#c50c24" stroke-width="1.05"/>
<circle cx="175.62" cy="304.10" r="2.4" fill="#fff" stroke="#c50c24" stroke-width="1.05"/>
<rect x="36.70" y="233.75" width="145.70" height="141.15" fill="none" stroke="#8a8a8a" stroke-width="1"/>
<line x1="33.80" y1="239.80" x2="36.70" y2="239.80" stroke="#3a3a3a" stroke-width="1.1"/>
<line x1="182.40" y1="239.80" x2="184.90" y2="239.80" stroke="#3a3a3a" stroke-width="1.1"/>
<text x="31.80" y="243.60" class="tk" text-anchor="end">1.0</text>
<text x="187.80" y="243.60" class="tk">100</text>
<line x1="33.80" y1="271.94" x2="36.70" y2="271.94" stroke="#3a3a3a" stroke-width="1.1"/>
<line x1="182.40" y1="271.94" x2="184.90" y2="271.94" stroke="#3a3a3a" stroke-width="1.1"/>
<text x="31.80" y="275.74" class="tk" text-anchor="end">0.5</text>
<text x="187.80" y="275.74" class="tk">75</text>
<line x1="33.80" y1="304.08" x2="36.70" y2="304.08" stroke="#3a3a3a" stroke-width="1.1"/>
<line x1="182.40" y1="304.08" x2="184.90" y2="304.08" stroke="#3a3a3a" stroke-width="1.1"/>
<text x="31.80" y="308.68" class="tk" text-anchor="end">0.0</text>
<text x="187.80" y="308.68" class="tk">50</text>
<line x1="33.80" y1="336.21" x2="36.70" y2="336.21" stroke="#3a3a3a" stroke-width="1.1"/>
<line x1="182.40" y1="336.21" x2="184.90" y2="336.21" stroke="#3a3a3a" stroke-width="1.1"/>
<text x="31.80" y="340.01" class="tk" text-anchor="end">-0.5</text>
<text x="187.80" y="340.01" class="tk">25</text>
<line x1="33.80" y1="368.35" x2="36.70" y2="368.35" stroke="#3a3a3a" stroke-width="1.1"/>
<line x1="182.40" y1="368.35" x2="184.90" y2="368.35" stroke="#3a3a3a" stroke-width="1.1"/>
<text x="31.80" y="372.15" class="tk" text-anchor="end">-1.0</text>
<text x="187.80" y="372.15" class="tk">0</text>
<line x1="59.22" y1="374.90" x2="59.22" y2="377.60" stroke="#3a3a3a" stroke-width="1.1"/>
<text x="59.22" y="387.30" class="tk" text-anchor="middle">1995</text>
<line x1="86.29" y1="374.90" x2="86.29" y2="377.60" stroke="#3a3a3a" stroke-width="1.1"/>
<text x="86.29" y="387.30" class="tk" text-anchor="middle">2000</text>
<line x1="113.36" y1="374.90" x2="113.36" y2="377.60" stroke="#3a3a3a" stroke-width="1.1"/>
<text x="113.36" y="387.30" class="tk" text-anchor="middle">2005</text>
<line x1="140.43" y1="374.90" x2="140.43" y2="377.60" stroke="#3a3a3a" stroke-width="1.1"/>
<text x="140.43" y="387.30" class="tk" text-anchor="middle">2010</text>
<line x1="167.50" y1="374.90" x2="167.50" y2="377.60" stroke="#3a3a3a" stroke-width="1.1"/>
<text x="167.50" y="387.30" class="tk" text-anchor="middle">2015</text>
<text x="323.6" y="209.6" class="tt" text-anchor="middle">GREAT BRITAIN</text>
<text x="322.6" y="225.8" class="st" text-anchor="middle" textLength="89.5" lengthAdjust="spacingAndGlyphs">Left-wing party</text>
<polygon points="255.35,368.85 255.35,295.50 258.06,306.00 260.76,307.30 263.47,308.30 266.18,306.60 268.88,307.00 271.59,306.50 274.30,306.30 277.01,308.70 279.71,311.30 282.42,311.30 285.13,307.50 287.83,305.30 290.54,305.30 293.25,307.00 295.95,309.80 298.66,312.70 301.37,313.30 304.08,310.50 306.78,307.20 309.49,309.20 312.20,307.20 314.90,309.50 317.61,313.00 320.32,313.50 323.02,312.50 325.73,310.00 328.44,313.00 331.15,310.50 333.85,313.00 336.56,315.20 339.27,315.80 341.97,316.90 344.68,318.40 347.39,321.40 350.09,320.00 352.80,321.40 355.51,324.00 358.22,323.70 360.92,327.60 363.63,327.60 366.34,327.60 369.04,327.00 371.75,323.70 374.46,321.40 377.16,318.60 379.87,316.60 382.58,315.80 385.29,318.10 387.99,319.20 387.99,368.85" fill="#e2e2e2"/>
<polyline points="255.35,295.50 258.06,306.00 260.76,307.30 263.47,308.30 266.18,306.60 268.88,307.00 271.59,306.50 274.30,306.30 277.01,308.70 279.71,311.30 282.42,311.30 285.13,307.50 287.83,305.30 290.54,305.30 293.25,307.00 295.95,309.80 298.66,312.70 301.37,313.30 304.08,310.50 306.78,307.20 309.49,309.20 312.20,307.20 314.90,309.50 317.61,313.00 320.32,313.50 323.02,312.50 325.73,310.00 328.44,313.00 331.15,310.50 333.85,313.00 336.56,315.20 339.27,315.80 341.97,316.90 344.68,318.40 347.39,321.40 350.09,320.00 352.80,321.40 355.51,324.00 358.22,323.70 360.92,327.60 363.63,327.60 366.34,327.60 369.04,327.00 371.75,323.70 374.46,321.40 377.16,318.60 379.87,316.60 382.58,315.80 385.29,318.10 387.99,319.20" fill="none" stroke="#bdbdbd" stroke-width="1" stroke-linejoin="round"/>
<line x1="255.35" y1="368.65" x2="387.99" y2="368.65" stroke="#d2d2d2" stroke-width="1.2"/>
<line x1="248.55" y1="304.08" x2="394.8" y2="304.08" stroke="#505050" stroke-width="1.1" stroke-dasharray="1.25,2.565"/>
<polyline points="255.35,256.70 258.06,276.40 260.76,273.90 263.47,266.00 266.18,258.10 268.88,255.10 271.59,258.70 274.30,271.50 277.01,276.10 279.71,315.80 282.42,309.00 285.13,285.30 287.83,280.40 290.54,306.00 293.25,279.80 295.95,274.50 298.66,272.10 301.37,296.80 304.08,271.50 306.78,264.00 309.49,271.10 312.20,275.10 314.90,277.40 317.61,295.50 320.32,302.80 323.02,269.10 325.73,295.60 328.44,285.90 331.15,239.80 333.85,255.70 336.56,316.90 339.27,291.30 341.97,253.20 344.68,263.60 347.39,263.60 350.09,239.80 352.80,239.80 355.51,239.80 358.22,239.80 360.92,239.80 363.63,271.90 366.34,303.90 369.04,239.80 371.75,282.40 374.46,300.50 377.16,239.80 379.87,271.90 382.58,253.70 385.29,250.20 387.99,258.70" fill="none" stroke="#c50c24" stroke-width="2" stroke-linejoin="round"/>
<circle cx="255.35" cy="256.70" r="2.4" fill="#fff" stroke="#c50c24" stroke-width="1.05"/>
<circle cx="258.06" cy="276.40" r="2.4" fill="#fff" stroke="#c50c24" stroke-width="1.05"/>
<circle cx="260.76" cy="273.90" r="2.4" fill="#fff" stroke="#c50c24" stroke-width="1.05"/>
<circle cx="263.47" cy="266.00" r="2.4" fill="#fff" stroke="#c50c24" stroke-width="1.05"/>
<circle cx="266.18" cy="258.10" r="2.4" fill="#fff" stroke="#c50c24" stroke-width="1.05"/>
<circle cx="268.88" cy="255.10" r="2.4" fill="#fff" stroke="#c50c24" stroke-width="1.05"/>
<circle cx="271.59" cy="258.70" r="2.4" fill="#fff" stroke="#c50c24" stroke-width="1.05"/>
<circle cx="274.30" cy="271.50" r="2.4" fill="#fff" stroke="#c50c24" stroke-width="1.05"/>
<circle cx="277.01" cy="276.10" r="2.4" fill="#fff" stroke="#c50c24" stroke-width="1.05"/>
<circle cx="279.71" cy="315.80" r="2.4" fill="#fff" stroke="#c50c24" stroke-width="1.05"/>
<circle cx="282.42" cy="309.00" r="2.4" fill="#fff" stroke="#c50c24" stroke-width="1.05"/>
<circle cx="285.13" cy="285.30" r="2.4" fill="#fff" stroke="#c50c24" stroke-width="1.05"/>
<circle cx="287.83" cy="280.40" r="2.4" fill="#fff" stroke="#c50c24" stroke-width="1.05"/>
<circle cx="290.54" cy="306.00" r="2.4" fill="#fff" stroke="#c50c24" stroke-width="1.05"/>
<circle cx="293.25" cy="279.80" r="2.4" fill="#fff" stroke="#c50c24" stroke-width="1.05"/>
<circle cx="295.95" cy="274.50" r="2.4" fill="#fff" stroke="#c50c24" stroke-width="1.05"/>
<circle cx="298.66" cy="272.10" r="2.4" fill="#fff" stroke="#c50c24" stroke-width="1.05"/>
<circle cx="301.37" cy="296.80" r="2.4" fill="#fff" stroke="#c50c24" stroke-width="1.05"/>
<circle cx="304.08" cy="271.50" r="2.4" fill="#fff" stroke="#c50c24" stroke-width="1.05"/>
<circle cx="306.78" cy="264.00" r="2.4" fill="#fff" stroke="#c50c24" stroke-width="1.05"/>
<circle cx="309.49" cy="271.10" r="2.4" fill="#fff" stroke="#c50c24" stroke-width="1.05"/>
<circle cx="312.20" cy="275.10" r="2.4" fill="#fff" stroke="#c50c24" stroke-width="1.05"/>
<circle cx="314.90" cy="277.40" r="2.4" fill="#fff" stroke="#c50c24" stroke-width="1.05"/>
<circle cx="317.61" cy="295.50" r="2.4" fill="#fff" stroke="#c50c24" stroke-width="1.05"/>
<circle cx="320.32" cy="302.80" r="2.4" fill="#fff" stroke="#c50c24" stroke-width="1.05"/>
<circle cx="323.02" cy="269.10" r="2.4" fill="#fff" stroke="#c50c24" stroke-width="1.05"/>
<circle cx="325.73" cy="295.60" r="2.4" fill="#fff" stroke="#c50c24" stroke-width="1.05"/>
<circle cx="328.44" cy="285.90" r="2.4" fill="#fff" stroke="#c50c24" stroke-width="1.05"/>
<circle cx="331.15" cy="239.80" r="2.4" fill="#fff" stroke="#c50c24" stroke-width="1.05"/>
<circle cx="333.85" cy="255.70" r="2.4" fill="#fff" stroke="#c50c24" stroke-width="1.05"/>
<circle cx="336.56" cy="316.90" r="2.4" fill="#fff" stroke="#c50c24" stroke-width="1.05"/>
<circle cx="339.27" cy="291.30" r="2.4" fill="#fff" stroke="#c50c24" stroke-width="1.05"/>
<circle cx="341.97" cy="253.20" r="2.4" fill="#fff" stroke="#c50c24" stroke-width="1.05"/>
<circle cx="344.68" cy="263.60" r="2.4" fill="#fff" stroke="#c50c24" stroke-width="1.05"/>
<circle cx="347.39" cy="263.60" r="2.4" fill="#fff" stroke="#c50c24" stroke-width="1.05"/>
<circle cx="350.09" cy="239.80" r="2.4" fill="#fff" stroke="#c50c24" stroke-width="1.05"/>
<circle cx="352.80" cy="239.80" r="2.4" fill="#fff" stroke="#c50c24" stroke-width="1.05"/>
<circle cx="355.51" cy="239.80" r="2.4" fill="#fff" stroke="#c50c24" stroke-width="1.05"/>
<circle cx="358.22" cy="239.80" r="2.4" fill="#fff" stroke="#c50c24" stroke-width="1.05"/>
<circle cx="360.92" cy="239.80" r="2.4" fill="#fff" stroke="#c50c24" stroke-width="1.05"/>
<circle cx="363.63" cy="271.90" r="2.4" fill="#fff" stroke="#c50c24" stroke-width="1.05"/>
<circle cx="366.34" cy="303.90" r="2.4" fill="#fff" stroke="#c50c24" stroke-width="1.05"/>
<circle cx="369.04" cy="239.80" r="2.4" fill="#fff" stroke="#c50c24" stroke-width="1.05"/>
<circle cx="371.75" cy="282.40" r="2.4" fill="#fff" stroke="#c50c24" stroke-width="1.05"/>
<circle cx="374.46" cy="300.50" r="2.4" fill="#fff" stroke="#c50c24" stroke-width="1.05"/>
<circle cx="377.16" cy="239.80" r="2.4" fill="#fff" stroke="#c50c24" stroke-width="1.05"/>
<circle cx="379.87" cy="271.90" r="2.4" fill="#fff" stroke="#c50c24" stroke-width="1.05"/>
<circle cx="382.58" cy="253.70" r="2.4" fill="#fff" stroke="#c50c24" stroke-width="1.05"/>
<circle cx="385.29" cy="250.20" r="2.4" fill="#fff" stroke="#c50c24" stroke-width="1.05"/>
<circle cx="387.99" cy="258.70" r="2.4" fill="#fff" stroke="#c50c24" stroke-width="1.05"/>
<rect x="249.10" y="233.75" width="145.70" height="141.15" fill="none" stroke="#8a8a8a" stroke-width="1"/>
<line x1="246.20" y1="239.80" x2="249.10" y2="239.80" stroke="#3a3a3a" stroke-width="1.1"/>
<line x1="394.80" y1="239.80" x2="397.30" y2="239.80" stroke="#3a3a3a" stroke-width="1.1"/>
<text x="244.20" y="243.60" class="tk" text-anchor="end">1.0</text>
<text x="400.20" y="243.60" class="tk">100</text>
<line x1="246.20" y1="271.94" x2="249.10" y2="271.94" stroke="#3a3a3a" stroke-width="1.1"/>
<line x1="394.80" y1="271.94" x2="397.30" y2="271.94" stroke="#3a3a3a" stroke-width="1.1"/>
<text x="244.20" y="275.74" class="tk" text-anchor="end">0.5</text>
<text x="400.20" y="275.74" class="tk">75</text>
<line x1="246.20" y1="304.08" x2="249.10" y2="304.08" stroke="#3a3a3a" stroke-width="1.1"/>
<line x1="394.80" y1="304.08" x2="397.30" y2="304.08" stroke="#3a3a3a" stroke-width="1.1"/>
<text x="244.20" y="308.68" class="tk" text-anchor="end">0.0</text>
<text x="400.20" y="308.68" class="tk">50</text>
<line x1="246.20" y1="336.21" x2="249.10" y2="336.21" stroke="#3a3a3a" stroke-width="1.1"/>
<line x1="394.80" y1="336.21" x2="397.30" y2="336.21" stroke="#3a3a3a" stroke-width="1.1"/>
<text x="244.20" y="340.01" class="tk" text-anchor="end">-0.5</text>
<text x="400.20" y="340.01" class="tk">25</text>
<line x1="246.20" y1="368.35" x2="249.10" y2="368.35" stroke="#3a3a3a" stroke-width="1.1"/>
<line x1="394.80" y1="368.35" x2="397.30" y2="368.35" stroke="#3a3a3a" stroke-width="1.1"/>
<text x="244.20" y="372.15" class="tk" text-anchor="end">-1.0</text>
<text x="400.20" y="372.15" class="tk">0</text>
<line x1="271.59" y1="374.90" x2="271.59" y2="377.60" stroke="#3a3a3a" stroke-width="1.1"/>
<text x="271.59" y="387.30" class="tk" text-anchor="middle">1995</text>
<line x1="298.66" y1="374.90" x2="298.66" y2="377.60" stroke="#3a3a3a" stroke-width="1.1"/>
<text x="298.66" y="387.30" class="tk" text-anchor="middle">2000</text>
<line x1="325.73" y1="374.90" x2="325.73" y2="377.60" stroke="#3a3a3a" stroke-width="1.1"/>
<text x="325.73" y="387.30" class="tk" text-anchor="middle">2005</text>
<line x1="352.80" y1="374.90" x2="352.80" y2="377.60" stroke="#3a3a3a" stroke-width="1.1"/>
<text x="352.80" y="387.30" class="tk" text-anchor="middle">2010</text>
<line x1="379.87" y1="374.90" x2="379.87" y2="377.60" stroke="#3a3a3a" stroke-width="1.1"/>
<text x="379.87" y="387.30" class="tk" text-anchor="middle">2015</text>
<text x="535.8" y="209.6" class="tt" text-anchor="middle">ITALY</text>
<text x="534.8" y="225.8" class="st" text-anchor="middle" textLength="89.5" lengthAdjust="spacingAndGlyphs">Left-wing party</text>
<polygon points="478.19,368.85 478.19,270.50 480.90,272.10 483.60,273.50 486.31,269.90 489.02,269.90 491.72,270.80 494.43,277.30 497.14,275.10 499.84,270.20 502.55,269.40 505.26,271.80 507.97,276.20 510.67,279.00 513.38,278.40 516.09,275.10 518.79,272.40 521.50,271.80 524.21,272.40 526.91,274.00 529.62,277.30 532.33,279.50 535.03,278.50 537.74,280.40 540.45,283.70 543.16,281.50 545.86,282.00 548.57,284.00 551.28,286.40 553.98,287.50 556.69,289.50 559.40,289.50 562.11,284.50 564.81,284.00 567.52,289.00 570.23,292.00 572.93,295.50 575.64,298.50 578.35,301.00 581.05,303.00 583.76,305.00 586.47,305.00 589.17,302.50 591.88,299.90 594.59,298.90 597.30,299.40 600.00,299.90 600.00,368.85" fill="#e2e2e2"/>
<polyline points="478.19,270.50 480.90,272.10 483.60,273.50 486.31,269.90 489.02,269.90 491.72,270.80 494.43,277.30 497.14,275.10 499.84,270.20 502.55,269.40 505.26,271.80 507.97,276.20 510.67,279.00 513.38,278.40 516.09,275.10 518.79,272.40 521.50,271.80 524.21,272.40 526.91,274.00 529.62,277.30 532.33,279.50 535.03,278.50 537.74,280.40 540.45,283.70 543.16,281.50 545.86,282.00 548.57,284.00 551.28,286.40 553.98,287.50 556.69,289.50 559.40,289.50 562.11,284.50 564.81,284.00 567.52,289.00 570.23,292.00 572.93,295.50 575.64,298.50 578.35,301.00 581.05,303.00 583.76,305.00 586.47,305.00 589.17,302.50 591.88,299.90 594.59,298.90 597.30,299.40 600.00,299.90" fill="none" stroke="#bdbdbd" stroke-width="1" stroke-linejoin="round"/>
<line x1="478.19" y1="368.65" x2="600.00" y2="368.65" stroke="#d2d2d2" stroke-width="1.2"/>
<line x1="460.75" y1="304.08" x2="607.0" y2="304.08" stroke="#505050" stroke-width="1.1" stroke-dasharray="1.25,2.565"/>
<polyline points="478.19,239.90 480.90,239.90 483.60,239.90 486.31,239.90 489.02,239.90 491.72,239.90 494.43,247.80 497.14,267.20 499.84,239.90 502.55,263.20 505.26,250.40 507.97,274.50 510.67,282.00 513.38,239.90 516.09,239.90 518.79,239.90 521.50,271.50 524.21,239.90 526.91,239.90 529.62,261.00 532.33,250.20 535.03,239.90 537.74,261.00 540.45,265.00 543.16,239.90 545.86,282.40 548.57,276.40 551.28,287.70 553.98,257.70 556.69,265.00 559.40,275.50 562.11,246.20 564.81,291.30 567.52,291.30 570.23,271.90 572.93,269.90 575.64,274.50 578.35,277.00 581.05,276.10 583.76,276.10 586.47,292.80 589.17,286.90 591.88,280.40 594.59,296.80 597.30,287.30 600.00,309.40" fill="none" stroke="#c50c24" stroke-width="2" stroke-linejoin="round"/>
<circle cx="478.19" cy="239.90" r="2.4" fill="#fff" stroke="#c50c24" stroke-width="1.05"/>
<circle cx="480.90" cy="239.90" r="2.4" fill="#fff" stroke="#c50c24" stroke-width="1.05"/>
<circle cx="483.60" cy="239.90" r="2.4" fill="#fff" stroke="#c50c24" stroke-width="1.05"/>
<circle cx="486.31" cy="239.90" r="2.4" fill="#fff" stroke="#c50c24" stroke-width="1.05"/>
<circle cx="489.02" cy="239.90" r="2.4" fill="#fff" stroke="#c50c24" stroke-width="1.05"/>
<circle cx="491.72" cy="239.90" r="2.4" fill="#fff" stroke="#c50c24" stroke-width="1.05"/>
<circle cx="494.43" cy="247.80" r="2.4" fill="#fff" stroke="#c50c24" stroke-width="1.05"/>
<circle cx="497.14" cy="267.20" r="2.4" fill="#fff" stroke="#c50c24" stroke-width="1.05"/>
<circle cx="499.84" cy="239.90" r="2.4" fill="#fff" stroke="#c50c24" stroke-width="1.05"/>
<circle cx="502.55" cy="263.20" r="2.4" fill="#fff" stroke="#c50c24" stroke-width="1.05"/>
<circle cx="505.26" cy="250.40" r="2.4" fill="#fff" stroke="#c50c24" stroke-width="1.05"/>
<circle cx="507.97" cy="274.50" r="2.4" fill="#fff" stroke="#c50c24" stroke-width="1.05"/>
<circle cx="510.67" cy="282.00" r="2.4" fill="#fff" stroke="#c50c24" stroke-width="1.05"/>
<circle cx="513.38" cy="239.90" r="2.4" fill="#fff" stroke="#c50c24" stroke-width="1.05"/>
<circle cx="516.09" cy="239.90" r="2.4" fill="#fff" stroke="#c50c24" stroke-width="1.05"/>
<circle cx="518.79" cy="239.90" r="2.4" fill="#fff" stroke="#c50c24" stroke-width="1.05"/>
<circle cx="521.50" cy="271.50" r="2.4" fill="#fff" stroke="#c50c24" stroke-width="1.05"/>
<circle cx="524.21" cy="239.90" r="2.4" fill="#fff" stroke="#c50c24" stroke-width="1.05"/>
<circle cx="526.91" cy="239.90" r="2.4" fill="#fff" stroke="#c50c24" stroke-width="1.05"/>
<circle cx="529.62" cy="261.00" r="2.4" fill="#fff" stroke="#c50c24" stroke-width="1.05"/>
<circle cx="532.33" cy="250.20" r="2.4" fill="#fff" stroke="#c50c24" stroke-width="1.05"/>
<circle cx="535.03" cy="239.90" r="2.4" fill="#fff" stroke="#c50c24" stroke-width="1.05"/>
<circle cx="537.74" cy="261.00" r="2.4" fill="#fff" stroke="#c50c24" stroke-width="1.05"/>
<circle cx="540.45" cy="265.00" r="2.4" fill="#fff" stroke="#c50c24" stroke-width="1.05"/>
<circle cx="543.16" cy="239.90" r="2.4" fill="#fff" stroke="#c50c24" stroke-width="1.05"/>
<circle cx="545.86" cy="282.40" r="2.4" fill="#fff" stroke="#c50c24" stroke-width="1.05"/>
<circle cx="548.57" cy="276.40" r="2.4" fill="#fff" stroke="#c50c24" stroke-width="1.05"/>
<circle cx="551.28" cy="287.70" r="2.4" fill="#fff" stroke="#c50c24" stroke-width="1.05"/>
<circle cx="553.98" cy="257.70" r="2.4" fill="#fff" stroke="#c50c24" stroke-width="1.05"/>
<circle cx="556.69" cy="265.00" r="2.4" fill="#fff" stroke="#c50c24" stroke-width="1.05"/>
<circle cx="559.40" cy="275.50" r="2.4" fill="#fff" stroke="#c50c24" stroke-width="1.05"/>
<circle cx="562.11" cy="246.20" r="2.4" fill="#fff" stroke="#c50c24" stroke-width="1.05"/>
<circle cx="564.81" cy="291.30" r="2.4" fill="#fff" stroke="#c50c24" stroke-width="1.05"/>
<circle cx="567.52" cy="291.30" r="2.4" fill="#fff" stroke="#c50c24" stroke-width="1.05"/>
<circle cx="570.23" cy="271.90" r="2.4" fill="#fff" stroke="#c50c24" stroke-width="1.05"/>
<circle cx="572.93" cy="269.90" r="2.4" fill="#fff" stroke="#c50c24" stroke-width="1.05"/>
<circle cx="575.64" cy="274.50" r="2.4" fill="#fff" stroke="#c50c24" stroke-width="1.05"/>
<circle cx="578.35" cy="277.00" r="2.4" fill="#fff" stroke="#c50c24" stroke-width="1.05"/>
<circle cx="581.05" cy="276.10" r="2.4" fill="#fff" stroke="#c50c24" stroke-width="1.05"/>
<circle cx="583.76" cy="276.10" r="2.4" fill="#fff" stroke="#c50c24" stroke-width="1.05"/>
<circle cx="586.47" cy="292.80" r="2.4" fill="#fff" stroke="#c50c24" stroke-width="1.05"/>
<circle cx="589.17" cy="286.90" r="2.4" fill="#fff" stroke="#c50c24" stroke-width="1.05"/>
<circle cx="591.88" cy="280.40" r="2.4" fill="#fff" stroke="#c50c24" stroke-width="1.05"/>
<circle cx="594.59" cy="296.80" r="2.4" fill="#fff" stroke="#c50c24" stroke-width="1.05"/>
<circle cx="597.30" cy="287.30" r="2.4" fill="#fff" stroke="#c50c24" stroke-width="1.05"/>
<circle cx="600.00" cy="309.40" r="2.4" fill="#fff" stroke="#c50c24" stroke-width="1.05"/>
<rect x="461.30" y="233.75" width="145.70" height="141.15" fill="none" stroke="#8a8a8a" stroke-width="1"/>
<line x1="458.40" y1="239.80" x2="461.30" y2="239.80" stroke="#3a3a3a" stroke-width="1.1"/>
<line x1="607.00" y1="239.80" x2="609.50" y2="239.80" stroke="#3a3a3a" stroke-width="1.1"/>
<text x="456.40" y="243.60" class="tk" text-anchor="end">1.0</text>
<text x="612.40" y="243.60" class="tk">100</text>
<line x1="458.40" y1="271.94" x2="461.30" y2="271.94" stroke="#3a3a3a" stroke-width="1.1"/>
<line x1="607.00" y1="271.94" x2="609.50" y2="271.94" stroke="#3a3a3a" stroke-width="1.1"/>
<text x="456.40" y="275.74" class="tk" text-anchor="end">0.5</text>
<text x="612.40" y="275.74" class="tk">75</text>
<line x1="458.40" y1="304.08" x2="461.30" y2="304.08" stroke="#3a3a3a" stroke-width="1.1"/>
<line x1="607.00" y1="304.08" x2="609.50" y2="304.08" stroke="#3a3a3a" stroke-width="1.1"/>
<text x="456.40" y="308.68" class="tk" text-anchor="end">0.0</text>
<text x="612.40" y="308.68" class="tk">50</text>
<line x1="458.40" y1="336.21" x2="461.30" y2="336.21" stroke="#3a3a3a" stroke-width="1.1"/>
<line x1="607.00" y1="336.21" x2="609.50" y2="336.21" stroke="#3a3a3a" stroke-width="1.1"/>
<text x="456.40" y="340.01" class="tk" text-anchor="end">-0.5</text>
<text x="612.40" y="340.01" class="tk">25</text>
<line x1="458.40" y1="368.35" x2="461.30" y2="368.35" stroke="#3a3a3a" stroke-width="1.1"/>
<line x1="607.00" y1="368.35" x2="609.50" y2="368.35" stroke="#3a3a3a" stroke-width="1.1"/>
<text x="456.40" y="372.15" class="tk" text-anchor="end">-1.0</text>
<text x="612.40" y="372.15" class="tk">0</text>
<line x1="483.60" y1="374.90" x2="483.60" y2="377.60" stroke="#3a3a3a" stroke-width="1.1"/>
<text x="483.60" y="387.30" class="tk" text-anchor="middle">1995</text>
<line x1="510.67" y1="374.90" x2="510.67" y2="377.60" stroke="#3a3a3a" stroke-width="1.1"/>
<text x="510.67" y="387.30" class="tk" text-anchor="middle">2000</text>
<line x1="537.74" y1="374.90" x2="537.74" y2="377.60" stroke="#3a3a3a" stroke-width="1.1"/>
<text x="537.74" y="387.30" class="tk" text-anchor="middle">2005</text>
<line x1="564.81" y1="374.90" x2="564.81" y2="377.60" stroke="#3a3a3a" stroke-width="1.1"/>
<text x="564.81" y="387.30" class="tk" text-anchor="middle">2010</text>
<line x1="591.88" y1="374.90" x2="591.88" y2="377.60" stroke="#3a3a3a" stroke-width="1.1"/>
<text x="591.88" y="387.30" class="tk" text-anchor="middle">2015</text>
<text transform="translate(11.0,305.30) rotate(-90)" font-size="13.5" text-anchor="middle" class="yl">Position</text>
<text transform="translate(629.0,332.40) rotate(90)" font-size="13.3" text-anchor="middle" textLength="79.4" lengthAdjust="spacingAndGlyphs" class="yl">Public support</text>
</svg></body></html>
